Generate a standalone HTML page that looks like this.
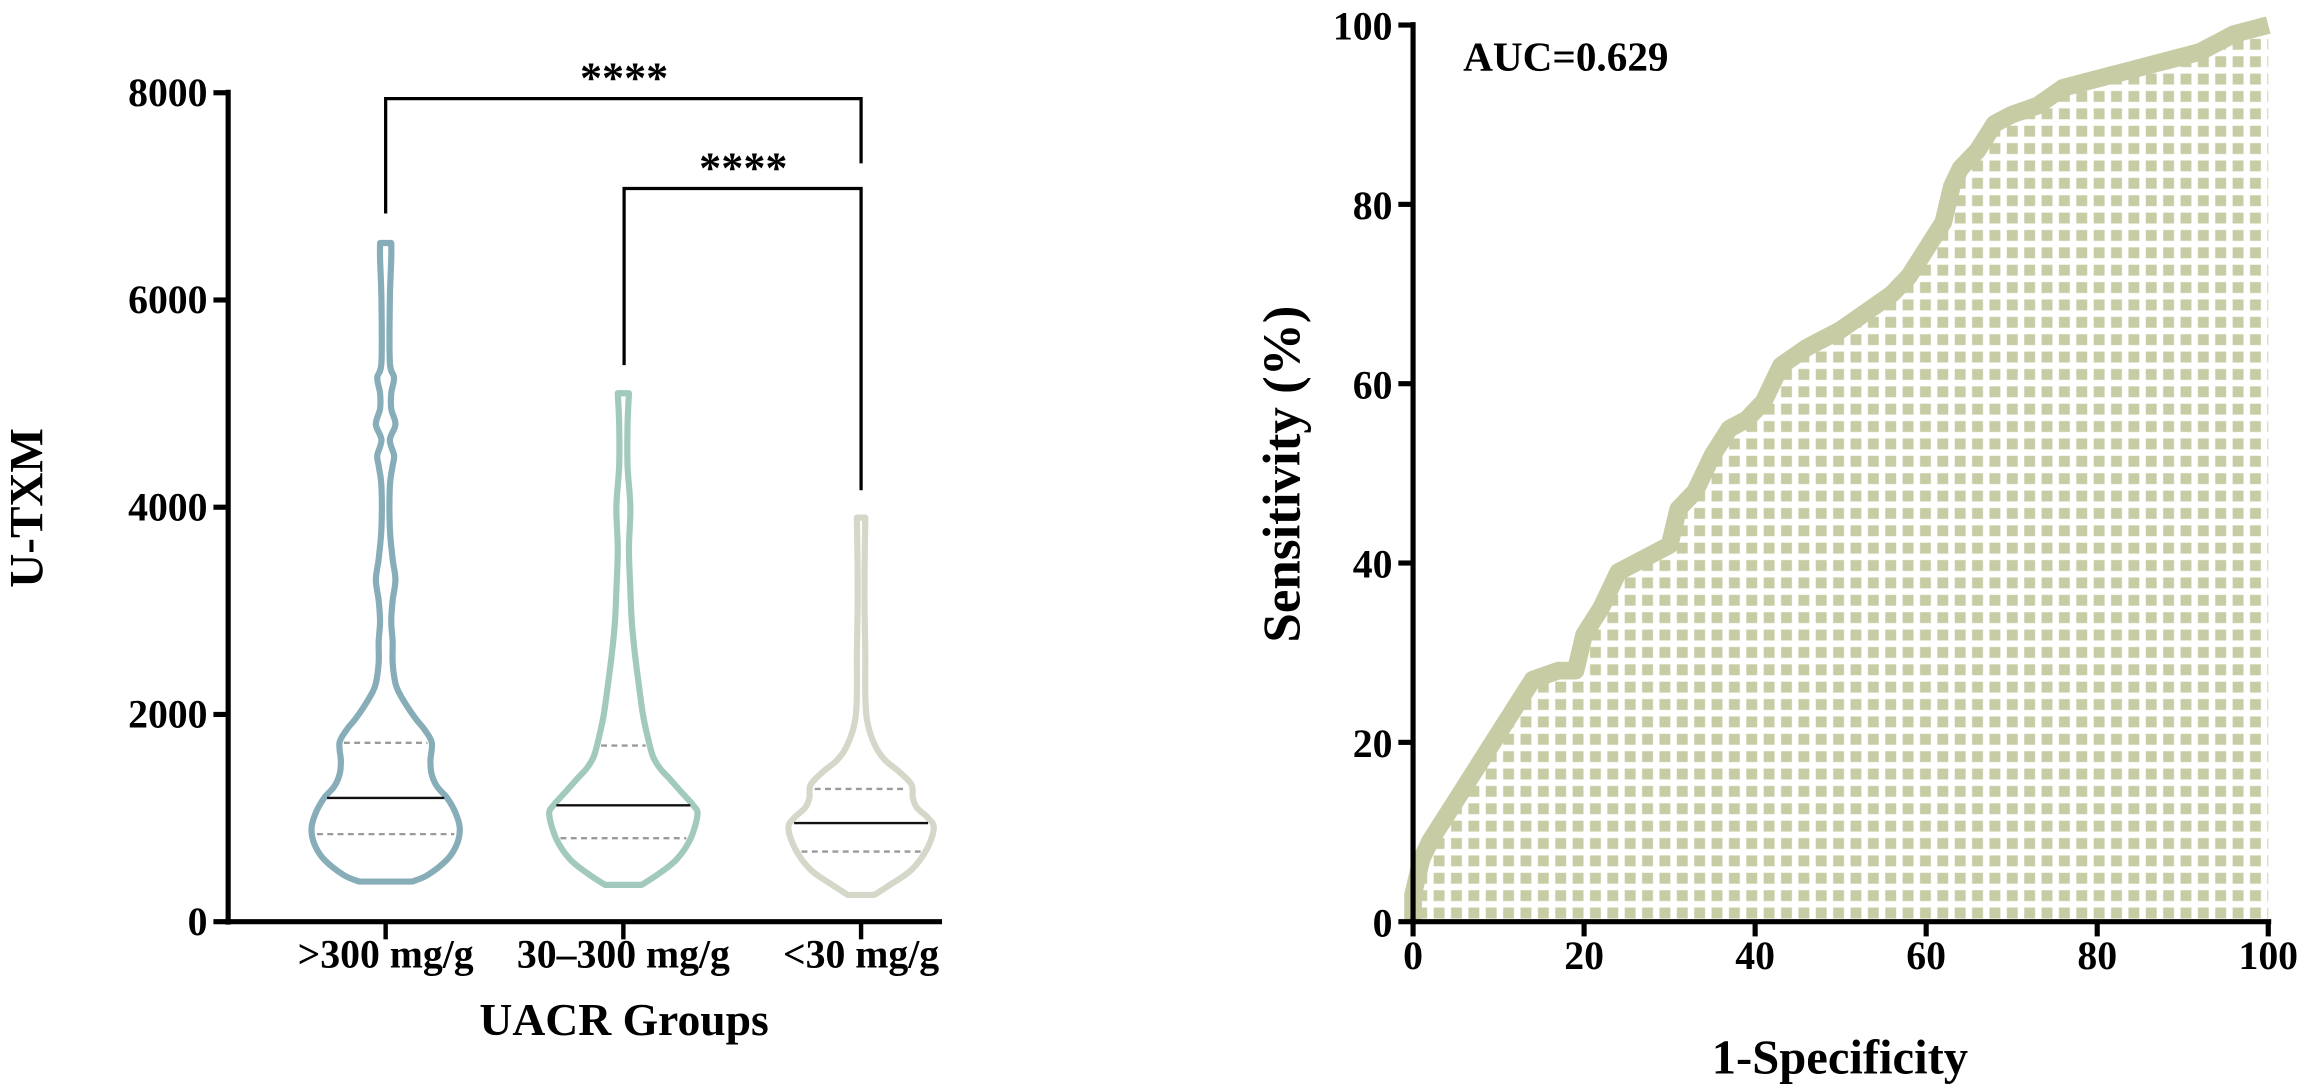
<!DOCTYPE html>
<html><head><meta charset="utf-8"><style>
html,body{margin:0;padding:0;background:#fff;width:2308px;height:1091px;overflow:hidden}
svg{display:block}
text{font-family:"Liberation Serif",serif;font-weight:bold;fill:#000}
</style></head><body>
<svg id="fig" width="2308" height="1091" viewBox="0 0 1568 741" preserveAspectRatio="none" xmlns="http://www.w3.org/2000/svg">
<defs>
<pattern id="chk" width="11.8" height="11.8" patternUnits="userSpaceOnUse" x="960" y="626">
<rect x="2.2" y="2.2" width="7.4" height="7.4" fill="#c8cca4"/>
</pattern>
</defs>
<g id="violin"></g>
<g id="roc"></g>
</svg>
<script>
// ---- Violin data ----
const groups = [">300 mg/g", "30–300 mg/g", "<30 mg/g"];
const yTicksV = [0, 2000, 4000, 6000, 8000];
const v1Vals = [387,450,600,750,903,1050,1194,1300,1419,1550,1726,1850,1950,2065,2200,2300,2500,2700,2900,3100,3300,3500,3800,4200,4400,4500,4650,4800,4950,5100,5250,5400,6000,6400,6550];
const v1Dens = [19,30,44,51,53,50,44,37,33,32,33,28,22,16,10,7,5,5,4,5,7,5,3,3,5,6,3,7,4,4,6,3,3,4,4];
const v2Vals = [355,450,600,800,1032,1123,1258,1380,1484,1600,1806,2000,2290,2613,2900,3200,3600,4000,4400,4800,5100];
const v2Dens = [13,24,38,48,53,50,41,33,26,21,17,14,11,8,6,5,4,5,3,3,4];
const v3Vals = [258,350,500,700,903,1000,1100,1194,1323,1450,1548,1650,1800,1968,2200,2600,3000,3400,3900];
const v3Dens = [9.5,20,36,47,52,48,40,37,36,27,18,12,7,4,3,3,2.5,2.5,3];
const medians = [1194, 1123, 952];
const q1s = [845, 806, 677];
const q3s = [1726, 1700, 1281];
const colors = ["#86adb8", "#a1c9bd", "#d3d8c8"];

// ---- ROC data ----
const rocX = [0,0,1,2,4,6,8,10,12,14,17,19,20,22,24,26,28,30,31,33,35,37,39,41,43,46,48,50,53,56,58,60,62,63,64,66,68,70,73,76,80,84,88,92,96,100];
const rocY = [0,3,7,9,12,15,18,21,24,27,28,28,32,35,39,40,41,42,46,48,52,55,56,58,62,64,65,66,68,70,72,75,78,82,84,86,89,90,91,93,94,95,96,97,99,100];
const rocTicks = [0,20,40,60,80,100];

const NS = "http://www.w3.org/2000/svg";
function mk(tag, attrs, parent, txt){
  const e = document.createElementNS(NS, tag);
  for (const k in attrs) e.setAttribute(k, attrs[k]);
  if (txt !== undefined) e.textContent = txt;
  parent.appendChild(e); return e;
}
const VX0 = 155, VY0 = 626, VY1 = 63;
const vy = v => VY0 - (v / 8000) * (VY0 - VY1);
const gx = i => 262 + i * 161.5;
const V = document.getElementById('violin');
let e;
e = mk('line',{x1:VX0,y1:VY1-2,x2:VX0,y2:VY0+2,stroke:'#000','stroke-width':3.5},V);
 
e = mk('line',{x1:VX0-2,y1:VY0,x2:640,y2:VY0,stroke:'#000','stroke-width':3.5},V);
 
yTicksV.forEach(t=>{
  e = mk('line',{x1:VX0-10,y1:vy(t),x2:VX0,y2:vy(t),stroke:'#000','stroke-width':3.5},V);
   
  e = mk('text',{x:VX0-14,y:vy(t)+9,'text-anchor':'end','font-size':27},V,String(t));
   
});
groups.forEach((g,i)=>{
  e = mk('line',{x1:gx(i),y1:VY0,x2:gx(i),y2:VY0+12,stroke:'#000','stroke-width':3},V);
   
  e = mk('text',{x:gx(i),y:657,'text-anchor':'middle','font-size':27},V,g);
   
});
e = mk('text',{x:424,y:703,'text-anchor':'middle','font-size':31},V,'UACR Groups');
 
e = mk('text',{x:0,y:0,'text-anchor':'middle','font-size':32,transform:'translate(29,345) rotate(-90)'},V,'U-TXM');
 

function halfAt(vals, dens, v){
  if (v <= vals[0]) return dens[0];
  for (let i=1;i<vals.length;i++){ if (v<=vals[i]){const f=(v-vals[i-1])/(vals[i]-vals[i-1]);return dens[i-1]+f*(dens[i]-dens[i-1]);} }
  return dens[dens.length-1];
}
function smooth(pts){
  let d = 'M'+pts[0][0]+','+pts[0][1];
  for (let i=0;i<pts.length-1;i++){
    const p0=pts[Math.max(i-1,0)],p1=pts[i],p2=pts[i+1],p3=pts[Math.min(i+2,pts.length-1)];
    const c1=[p1[0]+(p2[0]-p0[0])/6,p1[1]+(p2[1]-p0[1])/6];
    const c2=[p2[0]-(p3[0]-p1[0])/6,p2[1]-(p3[1]-p1[1])/6];
    d+=' C'+c1[0]+','+c1[1]+' '+c2[0]+','+c2[1]+' '+p2[0]+','+p2[1];
  }
  return d;
}
const allVals=[v1Vals,v2Vals,v3Vals], allDens=[v1Dens,v2Dens,v3Dens];
groups.forEach((g,i)=>{
  const cx=gx(i), vals=allVals[i], dens=allDens[i];
  const right = vals.map((v,k)=>[cx+dens[k]*0.95, vy(v)]);
  const left = vals.map((v,k)=>[cx-dens[k]*0.95, vy(v)]).reverse();
  const d = smooth(right) + ' L' + left[0][0]+','+left[0][1] + smooth(left).replace(/^M[^ ]+/, '') + ' Z';
  e = mk('path',{d:d,fill:'none',stroke:colors[i],'stroke-width':4.2,'stroke-linejoin':'round'},V);
   
  [q1s[i],q3s[i]].forEach(q=>{
    const h=halfAt(vals,dens,q)*0.95-3;
    e = mk('line',{x1:cx-h,y1:vy(q),x2:cx+h,y2:vy(q),stroke:'#9a9a9a','stroke-width':1.6,'stroke-dasharray':'4 3'},V);
     
  });
  const hm=halfAt(vals,dens,medians[i])*0.95-2;
  e = mk('line',{x1:cx-hm,y1:vy(medians[i]),x2:cx+hm,y2:vy(medians[i]),stroke:'#111','stroke-width':1.6},V);
   
});
e = mk('path',{d:'M262,145 L262,67 L585,67 L585,111',fill:'none',stroke:'#000','stroke-width':2.2},V);
 
e = mk('path',{d:'M424,248 L424,128 L585,128 L585,333',fill:'none',stroke:'#000','stroke-width':2.2},V);
 
e = mk('text',{x:424,y:63,'text-anchor':'middle','font-size':30},V,'****');
 
e = mk('text',{x:505,y:124,'text-anchor':'middle','font-size':30},V,'****');
 

// ROC
const R = document.getElementById('roc');
const RX0=960, RX1=1541, RY0=626, RY1=17;
const rx = v => RX0 + v/100*(RX1-RX0);
const ry = v => RY0 - v/100*(RY0-RY1);
let area = 'M'+rx(0)+','+ry(0);
rocX.forEach((x,k)=>{ area += ' L'+rx(x)+','+ry(rocY[k]); });
area += ' L'+rx(100)+','+ry(0)+' Z';
e = mk('path',{d:area,fill:'url(#chk)'},R);
 
let line = '';
rocX.forEach((x,k)=>{ line += (k?' L':'M')+rx(x)+','+ry(rocY[k]); });
e = mk('path',{d:line,fill:'none',stroke:'#c8cca4','stroke-width':12,'stroke-linejoin':'round'},R);
 
e = mk('line',{x1:RX0,y1:RY1-2,x2:RX0,y2:RY0+2,stroke:'#000','stroke-width':3.5},R);
 
e = mk('line',{x1:RX0-2,y1:RY0,x2:RX1+2,y2:RY0,stroke:'#000','stroke-width':3.5},R);
 
rocTicks.forEach(t=>{
  e = mk('line',{x1:RX0-10,y1:ry(t),x2:RX0,y2:ry(t),stroke:'#000','stroke-width':3.5},R);
   
  e = mk('text',{x:RX0-14,y:ry(t)+10,'text-anchor':'end','font-size':27},R,String(t));
   
  e = mk('line',{x1:rx(t),y1:RY0,x2:rx(t),y2:RY0+10,stroke:'#000','stroke-width':3.5},R);
   
  e = mk('text',{x:rx(t),y:RY0+32,'text-anchor':'middle','font-size':27},R,String(t));
   
});
e = mk('text',{x:1250,y:729,'text-anchor':'middle','font-size':33},R,'1-Specificity');
 
e = mk('text',{x:0,y:0,'text-anchor':'middle','font-size':36,transform:'translate(883,322) rotate(-90)'},R,'Sensitivity (%)');
 
e = mk('text',{x:994,y:48,'font-size':28},R,'AUC=0.629');
 
</script>
</body></html>
